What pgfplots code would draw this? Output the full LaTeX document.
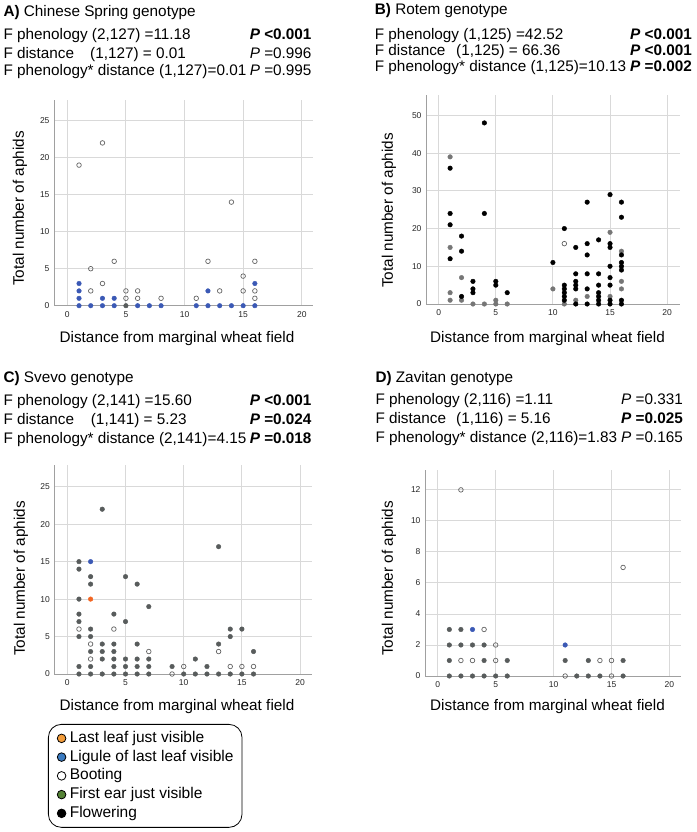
\documentclass[border=0pt]{standalone}
\usepackage{fontspec}
\setmainfont{Liberation Sans}
\usepackage{pgfplots}
\pgfplotsset{compat=1.18}

\definecolor{gridgray}{RGB}{217,217,217}
\definecolor{axisgray}{RGB}{160,160,160}
\definecolor{ptblue}{RGB}{59,89,181}
\definecolor{ptorange}{RGB}{242,101,34}
\definecolor{ptgray}{RGB}{88,92,92}
\definecolor{ptlight}{RGB}{118,118,118}
\definecolor{openedge}{RGB}{100,100,100}
\definecolor{legorange}{RGB}{243,156,58}
\definecolor{legblue}{RGB}{58,122,192}
\definecolor{leggreen}{RGB}{84,130,53}

\newcommand{\txt}{\fontsize{15.3}{18}\selectfont}

\pgfplotsset{
  panel/.style={
    scale only axis, anchor=south west, clip=false,
    axis x line=bottom, axis y line=left,
    axis line style={-, draw=axisgray, line width=1pt},
    grid=major, grid style={draw=gridgray, line width=0.9pt},
    major tick length=0pt,
    xtick={0,5,10,15,20},
    ymin=0,
    /pgf/number format/assume math mode=true,
    tick label style={font=\fontsize{8.5}{10}\selectfont, text=black!85},
    xticklabel style={yshift=-2pt},
    yticklabel style={xshift=-1pt},
  },
  opn/.style={only marks, mark=o, mark size=2.3pt, mark options={draw=openedge, fill=white, line width=0.7pt}},
  dot/.style={only marks, mark=*, mark size=2.3pt, mark options={draw=#1, fill=#1}},
}

\begin{document}
\begin{tikzpicture}
\useasboundingbox (0pt,0pt) rectangle (696pt,-832pt);

% ---------- text A
\node[anchor=base west, inner sep=0] at (3.3pt,-16.7pt) {\txt\textbf{A)} Chinese Spring genotype};
\node[anchor=base west, inner sep=0] at (3.3pt,-40pt) {\txt F phenology (2,127) =11.18};
\node[anchor=base west, inner sep=0] at (3.3pt,-58.3pt) {\txt F distance};
\node[anchor=base west, inner sep=0] at (90pt,-58.3pt) {\txt (1,127) = 0.01};
\node[anchor=base west, inner sep=0] at (3.3pt,-76pt) {\txt F phenology* distance (1,127)=0.01};
\node[anchor=base east, inner sep=0] at (311.7pt,-40pt) {\txt\textbf{\textit{P} <0.001}};
\node[anchor=base east, inner sep=0] at (311.7pt,-58.3pt) {\txt\textit{P} =0.996};
\node[anchor=base east, inner sep=0] at (311.7pt,-76pt) {\txt\textit{P} =0.995};

% ---------- text B
\node[anchor=base west, inner sep=0] at (374.7pt,-15pt) {\txt\textbf{B)} Rotem genotype};
\node[anchor=base west, inner sep=0] at (374.7pt,-39.3pt) {\txt F phenology (1,125) =42.52};
\node[anchor=base west, inner sep=0] at (374.7pt,-56pt) {\txt F distance};
\node[anchor=base west, inner sep=0] at (456pt,-56pt) {\txt (1,125) = 66.36};
\node[anchor=base west, inner sep=0] at (374.7pt,-72pt) {\txt F phenology* distance (1,125)=10.13};
\node[anchor=base east, inner sep=0] at (692pt,-39.3pt) {\txt\textbf{\textit{P} <0.001}};
\node[anchor=base east, inner sep=0] at (692pt,-56pt) {\txt\textbf{\textit{P} <0.001}};
\node[anchor=base east, inner sep=0] at (692pt,-72pt) {\txt\textbf{\textit{P} =0.002}};

% ---------- text C
\node[anchor=base west, inner sep=0] at (3.3pt,-382pt) {\txt\textbf{C)} Svevo genotype};
\node[anchor=base west, inner sep=0] at (3.3pt,-405pt) {\txt F phenology (2,141) =15.60};
\node[anchor=base west, inner sep=0] at (3.3pt,-424pt) {\txt F distance};
\node[anchor=base west, inner sep=0] at (90.7pt,-424pt) {\txt (1,141) = 5.23};
\node[anchor=base west, inner sep=0] at (3.3pt,-443pt) {\txt F phenology* distance (2,141)=4.15};
\node[anchor=base east, inner sep=0] at (311.7pt,-405pt) {\txt\textbf{\textit{P} <0.001}};
\node[anchor=base east, inner sep=0] at (311.7pt,-424pt) {\txt\textbf{\textit{P} =0.024}};
\node[anchor=base east, inner sep=0] at (311.7pt,-443pt) {\txt\textbf{\textit{P} =0.018}};

% ---------- text D
\node[anchor=base west, inner sep=0] at (375.3pt,-382pt) {\txt\textbf{D)} Zavitan genotype};
\node[anchor=base west, inner sep=0] at (375.3pt,-404pt) {\txt F phenology (2,116) =1.11};
\node[anchor=base west, inner sep=0] at (375.3pt,-423pt) {\txt F distance};
\node[anchor=base west, inner sep=0] at (456pt,-423pt) {\txt (1,116) = 5.16};
\node[anchor=base west, inner sep=0] at (375.3pt,-442pt) {\txt F phenology* distance (2,116)=1.83};
\node[anchor=base east, inner sep=0] at (683pt,-404pt) {\txt\textit{P} =0.331};
\node[anchor=base east, inner sep=0] at (683pt,-423pt) {\txt\textbf{\textit{P} =0.025}};
\node[anchor=base east, inner sep=0] at (683pt,-442pt) {\txt\textit{P} =0.165};

% ---------- axis labels
\node[rotate=90, inner sep=0] at (20pt,-208.5pt) {\txt Total number of aphids};
\node[rotate=90, inner sep=0] at (389pt,-210.5pt) {\txt Total number of aphids};
\node[rotate=90, inner sep=0] at (21pt,-578.5pt) {\txt Total number of aphids};
\node[rotate=90, inner sep=0] at (389pt,-578.5pt) {\txt Total number of aphids};
\node[anchor=base, inner sep=0] at (177pt,-342pt) {\txt Distance from marginal wheat field};
\node[anchor=base, inner sep=0] at (547.5pt,-342pt) {\txt Distance from marginal wheat field};
\node[anchor=base, inner sep=0] at (177pt,-710pt) {\txt Distance from marginal wheat field};
\node[anchor=base, inner sep=0] at (547.5pt,-710pt) {\txt Distance from marginal wheat field};

% ---------- A) Chinese Spring
\begin{axis}[panel, at={(54pt,-305.7pt)}, width=259pt, height=205.7pt,
  xmin=-1.135, xmax=20.96, ymax=27.8, ytick={0,5,...,25}]
\addplot[opn] coordinates {(1,19) (2,5) (2,2) (3,22) (3,3) (4,6) (5,2) (5,1) (6,2) (6,1)
  (8,1) (11,1) (12,6) (13,2) (14,14) (15,4) (15,2) (16,6) (16,2) (16,1)};
\addplot[dot=ptblue] coordinates {(1,3) (1,2) (1,1) (1,0) (2,0) (3,1) (3,0) (4,1) (4,0)
  (6,0) (7,0) (8,0) (11,0) (12,2) (12,0) (13,0) (14,0) (15,0) (16,3) (16,0)};
\addplot[dot=ptgray] coordinates {(5,0)};
\end{axis}

% ---------- B) Rotem
\begin{axis}[panel, at={(426pt,-304pt)}, width=253.7pt, height=209pt,
  xmin=-1.11, xmax=21.1, ymax=55.4, ytick={0,10,...,50}]
\addplot[dot=ptlight] coordinates {(1,39) (1,15) (1,3) (1,1) (2,7) (2,1) (3,0) (4,0) (5,1) (5,0)
  (6,0) (10,4) (11,0) (12,1) (13,2) (15,19) (15,2) (16,14) (16,6) (16,4)};
\addplot[dot=black] coordinates {(1,36) (1,24) (1,21) (1,12) (2,18) (2,14) (2,2) (3,6) (3,4) (3,3)
  (4,48) (4,24) (5,6) (5,5) (6,3) (10,11) (11,20) (11,5) (11,4) (11,3) (11,2) (11,1)
  (12,15) (12,8) (12,6) (12,5) (12,4) (12,0) (13,27) (13,16) (13,13) (13,8) (13,4) (13,0)
  (14,17) (14,8) (14,5) (14,3) (14,2) (14,1) (14,0) (15,29) (15,16) (15,15) (15,10) (15,7)
  (15,5) (15,1) (15,0) (16,27) (16,23) (16,13) (16,11) (16,10) (16,9) (16,1) (16,0)};
\addplot[opn] coordinates {(11,16)};
\end{axis}

% ---------- C) Svevo
\begin{axis}[panel, at={(54.3pt,-674pt)}, width=257.4pt, height=209pt,
  xmin=-1.12, xmax=21.0, ymax=27.9, ytick={0,5,...,25},
  legend style={at={(axis description cs:-0.0245,-0.239)}, anchor=north west,
    draw=black, line width=0.8pt, rounded corners=13pt, fill=white,
    font=\fontsize{15.5}{18}\selectfont, row sep=3.75pt,
    inner xsep=8.5pt, inner ysep=6.5pt,
    nodes={inner sep=0pt, text height=11.5pt, text depth=3.5pt},
    /tikz/every odd column/.append style={column sep=3.5pt}},
  legend cell align=left,
  legend image code/.code={\filldraw[#1] (4.3pt,0pt) circle (4.3pt);}]
\addplot[opn, forget plot] coordinates {(1,6) (2,4) (2,2) (4,6) (7,3) (9,0) (10,1) (13,3)
  (14,1) (15,1) (16,1)};
\addplot[dot=ptgray, forget plot] coordinates {(1,15) (1,14) (1,10) (1,8) (1,7) (1,5) (1,1) (1,0)
  (2,13) (2,12) (2,6) (2,5) (2,3) (2,1) (2,0) (3,22) (3,4) (3,3) (3,2) (3,0)
  (4,8) (4,4) (4,3) (4,2) (4,1) (4,0) (5,13) (5,7) (5,2) (5,1) (5,0)
  (6,12) (6,4) (6,2) (6,1) (6,0) (7,9) (7,2) (7,1) (7,0) (9,1) (10,0) (11,2) (11,0)
  (12,1) (12,0) (13,17) (13,4) (13,0) (14,6) (14,5) (14,0) (15,6) (15,0) (16,3) (16,0)};
\addplot[dot=ptblue, forget plot] coordinates {(2,15)};
\addplot[dot=ptorange, forget plot] coordinates {(2,10)};
\addlegendimage{fill=legorange, draw=black, line width=0.8pt}
\addlegendentry{Last leaf just visible}
\addlegendimage{fill=legblue, draw=black, line width=0.8pt}
\addlegendentry{Ligule of last leaf visible}
\addlegendimage{fill=white, draw=black, line width=0.8pt}
\addlegendentry{Booting}
\addlegendimage{fill=leggreen, draw=black, line width=0.8pt}
\addlegendentry{First ear just visible}
\addlegendimage{fill=black, draw=black, line width=0.8pt}
\addlegendentry{Flowering}
\end{axis}

% ---------- D) Zavitan
\begin{axis}[panel, at={(425pt,-676pt)}, width=256pt, height=206.3pt,
  xmin=-1.1, xmax=21.0, ymax=13.3, ytick={0,2,...,12}]
\addplot[opn] coordinates {(2,12) (16,7) (4,3) (2,1) (3,1) (5,2) (5,1) (14,1) (15,1) (11,0) (15,0)};
\addplot[dot=ptgray] coordinates {(1,3) (2,3) (1,2) (2,2) (3,2) (4,2) (1,1) (4,1) (6,1)
  (1,0) (2,0) (3,0) (4,0) (5,0) (6,0) (11,1) (12,0) (13,1) (13,0) (14,0) (16,1) (16,0)};
\addplot[dot=ptblue] coordinates {(3,3) (11,2)};
\end{axis}
\end{tikzpicture}
\end{document}
